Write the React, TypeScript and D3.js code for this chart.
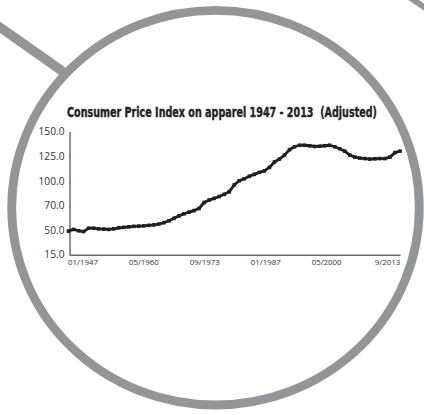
import { useEffect, useRef } from "react";
import * as d3 from "d3";

// apparel CPI, one reading per year
const years = d3.range(1947, 2014);
const cpiValues = [
  48.5, 50.5, 49, 47.8, 51.5, 51.5, 51, 50.8, 50.5, 51,
  51.8, 52.2, 52.6, 53, 53.2, 53.4, 53.8, 54.2, 54.9, 56,
  57.5, 59.5, 61.5, 63.2, 64.5, 65.8, 67.5, 73.5, 76.5, 78.5,
  80.8, 83.5, 86.5, 95, 100, 102, 104.5, 106.5, 108.5, 110,
  113.5, 119, 122, 126, 131.5, 134.5, 136, 136, 135.5, 134.8,
  135, 135.5, 136, 134.5, 132.5, 130, 126, 124, 123, 122.5,
  122, 122.3, 122.5, 122.5, 124, 128.5, 130,
];
const yTicks = [15, 50, 70, 100, 125, 150];
const xTickLabels = ["01/1947", "05/1960", "09/1973", "01/1987", "05/2000", "9/2013"];
const title = "Consumer Price Index on apparel 1947 - 2013  (Adjusted)";

const INK = "#231f20";
const RING = "#939598";

export default function App() {
  const svgRef = useRef<SVGSVGElement | null>(null);

  useEffect(() => {
    if (!svgRef.current) return;
    const svg = d3.select(svgRef.current);
    svg.selectAll("*").remove();

    const left = 69.5;
    const right = 400;
    const bottom = 254.7;
    const step = 24.65;
    const titleWidth = 310;

    const rows = years.map((yr, i) => ({ date: new Date(yr, 0, 1), value: cpiValues[i] }));

    // magnifier frame
    svg
      .append("line")
      .attr("x1", -6)
      .attr("y1", 23)
      .attr("x2", 72)
      .attr("y2", 78)
      .attr("stroke", RING)
      .attr("stroke-width", 9.5);
    svg
      .append("line")
      .attr("x1", 409)
      .attr("y1", -3)
      .attr("x2", 427)
      .attr("y2", 9)
      .attr("stroke", RING)
      .attr("stroke-width", 6);
    svg
      .append("ellipse")
      .attr("cx", 215.5)
      .attr("cy", 207.7)
      .attr("rx", 203.8)
      .attr("ry", 197.3)
      .attr("fill", "#fff")
      .attr("stroke", RING)
      .attr("stroke-width", 8.8);

    const x = d3
      .scaleTime()
      .domain(d3.extent(rows, (d) => d.date) as [Date, Date])
      .range([left - 1, right]);
    const y = d3
      .scaleLinear()
      .domain(yTicks)
      .range(yTicks.map((_, i) => bottom - i * step));
    const xLabels = d3.scalePoint<string>().domain(xTickLabels).range([left, right]).padding(0.213);

    // title: squeeze the bold face horizontally to the condensed width of the original
    const titleText = svg
      .append("g")
      .append("text")
      .attr("text-anchor", "middle")
      .attr("font-family", "'Liberation Sans Narrow', 'DejaVu Sans Condensed', 'Roboto Condensed', sans-serif")
      .attr("font-stretch", "condensed")
      .attr("font-weight", 700)
      .attr("font-size", 14.5)
      .attr("fill", INK)
      .attr("stroke", INK)
      .attr("stroke-width", 0.4)
      .style("white-space", "pre")
      .text(title);
    const natural = (titleText.node() as SVGTextElement).getComputedTextLength() || titleWidth;
    (titleText.node()!.parentNode as SVGGElement).setAttribute(
      "transform",
      `translate(222,116.7) scale(${titleWidth / natural},1)`,
    );

    svg
      .append("g")
      .attr("transform", `translate(${left},0)`)
      .call(d3.axisLeft(y).tickValues(yTicks).tickSize(0).tickSizeOuter(0).tickPadding(5).tickFormat(d3.format(".1f")))
      .call((axis) => axis.selectAll("path").attr("stroke", INK).attr("stroke-width", 1))
      .call((axis) =>
        axis
          .selectAll("text")
          .attr("fill", "#333")
          .attr("font-family", "'Open Sans', sans-serif")
          .attr("font-size", 10.2),
      );

    svg
      .append("g")
      .attr("transform", `translate(0,${bottom})`)
      .call(d3.axisBottom(xLabels).tickSize(0).tickSizeOuter(0).tickPadding(5))
      .call((axis) => axis.selectAll("path").attr("stroke", INK).attr("stroke-width", 1))
      .call((axis) =>
        axis
          .selectAll("text")
          .attr("fill", "#333")
          .attr("font-family", "'Open Sans', sans-serif")
          .attr("font-size", 7.9),
      );

    const line = d3
      .line<(typeof rows)[number]>()
      .x((d) => x(d.date))
      .y((d) => y(d.value));

    svg
      .append("path")
      .datum(rows)
      .attr("d", line)
      .attr("fill", "none")
      .attr("stroke", INK)
      .attr("stroke-width", 2.8)
      .attr("stroke-linejoin", "round");

    svg
      .append("g")
      .selectAll("rect")
      .data(rows)
      .join("rect")
      .attr("x", (d) => x(d.date) - 1.8)
      .attr("y", (d) => y(d.value) - 1.8)
      .attr("width", 3.6)
      .attr("height", 3.6)
      .attr("fill", INK);
  }, []);

  return (
    <svg
      ref={svgRef}
      width={424}
      height={415}
      viewBox="0 0 424 415"
      style={{ position: "absolute", left: 0, top: 0, background: "#fff" }}
    />
  );
}
